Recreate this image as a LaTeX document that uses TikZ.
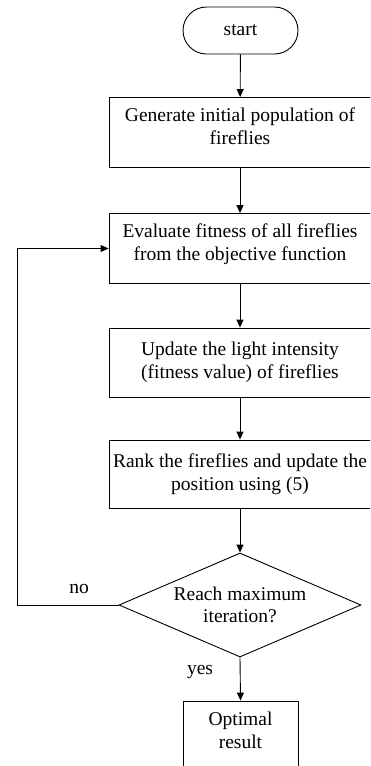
\documentclass[tikz,border=0pt]{standalone}
\usepackage{fontspec}
\setmainfont{Liberation Serif}
\usetikzlibrary{shapes.geometric,arrows.meta}
\tikzset{
  testo/.style={font=\fontsize{19.5}{22.5}\selectfont},
  blocco/.style={draw, testo, align=center, inner sep=0pt, minimum width=262pt, minimum height=70pt},
  terminale/.style={draw, testo, rounded corners=23.5pt, inner sep=0pt, minimum width=115pt, minimum height=47pt},
  scelta/.style={draw, testo, diamond, align=center, aspect=2.33, inner sep=0pt, minimum width=242pt, minimum height=104pt},
}
\begin{document}
\begin{tikzpicture}[x=1pt, y=-1pt, line width=0.9pt, >={Triangle[length=8pt, width=7pt]}]
\clip (0, 0) rectangle (370, 766);
% inizio
\node[terminale] (start) at (240.5, 30.5) {start};
% blocchi
\node[blocco] (gen) at (240, 132.5) {Generate initial population of\\fireflies\\[-10pt]\mbox{}};
\node[blocco] (eval) at (240, 248.5) {Evaluate fitness of all fireflies\\from the objective function\\[-10pt]\mbox{}};
\node[blocco, minimum height=69pt] (upd) at (240, 362.5) {Update the light intensity\\(fitness value) of fireflies};
\node[blocco, minimum height=68pt] (rank) at (240, 474) {Rank the fireflies and update the\\position using (5)};
% condizione
\node[scelta] (cond) at (240, 605) {Reach maximum\\iteration?};
% fine
\node[blocco, minimum width=115pt, minimum height=71pt] (opt) at (240.5, 736.5) {Optimal\\result\\[-10pt]\mbox{}};
% frecce
\draw[->] (start) -- (gen);
\draw[->] (gen) -- (eval);
\draw[->] (eval) -- (upd);
\draw[->] (upd) -- (rank);
\draw[->] (rank) -- (cond);
\draw[->] (cond.south) -- (opt.north);
% ciclo
\coordinate (ritorno) at (17, 605);
\draw[->] (cond.west) -- (ritorno) |- (eval.west);
\node[testo] (no) at (79, 589) {no};
\node[testo] (yes) at (200, 672) {yes};
\end{tikzpicture}
\end{document}
